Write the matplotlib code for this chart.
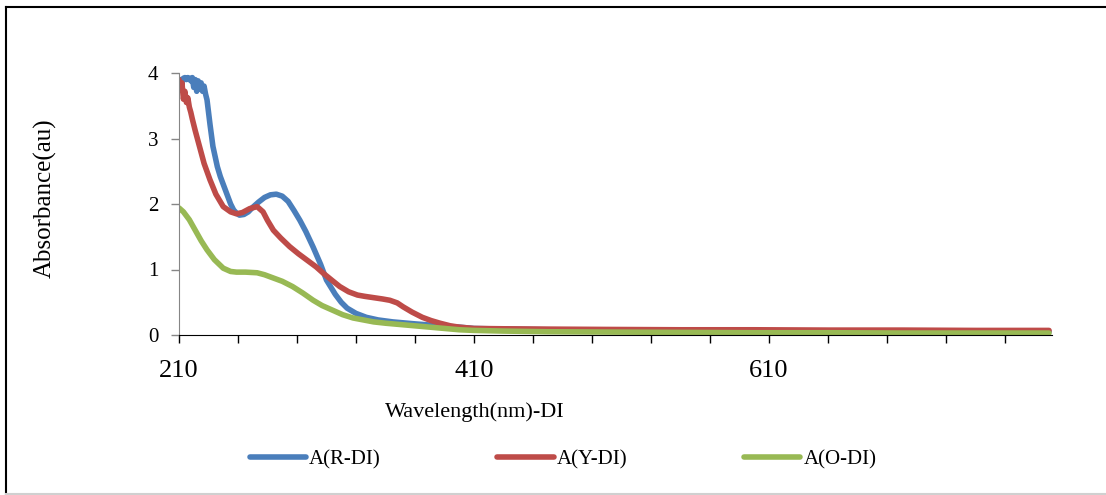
import matplotlib
matplotlib.use("Agg")
import matplotlib.pyplot as plt
from matplotlib.lines import Line2D

plt.rcParams['font.family'] = ['Liberation Serif', 'DejaVu Serif']

# UV-Vis absorbance (wavelength in nm)
wl_r = [210, 211, 212, 213, 214, 215, 216, 217, 218, 219, 220, 221, 222, 223, 224, 225, 226, 227, 228,
        229, 231, 233, 236, 238, 242, 245, 247, 249, 251, 254, 257, 260, 264, 268, 272, 276, 280, 284,
        288, 292, 296, 301, 306, 310, 316, 320, 324, 330, 337, 345, 355, 370, 387, 400, 410, 430, 460,
        500, 550, 600, 650, 700, 750, 800]
abs_r = [3.88, 3.90, 3.85, 3.92, 3.93, 3.90, 3.93, 3.92, 3.88, 3.93, 3.78, 3.90, 3.72, 3.88, 3.75, 3.85, 3.72, 3.80, 3.68,
         3.59, 3.22, 2.88, 2.57, 2.42, 2.18, 2.00, 1.91, 1.86, 1.83, 1.84, 1.88, 1.95, 2.03, 2.10, 2.14, 2.15, 2.12, 2.04,
         1.90, 1.75, 1.58, 1.34, 1.08, 0.84, 0.62, 0.50, 0.41, 0.33, 0.27, 0.23, 0.20, 0.17, 0.14, 0.12, 0.10, 0.09, 0.08,
         0.07, 0.065, 0.06, 0.06, 0.055, 0.05, 0.05]

wl_y = [210, 211, 212, 213, 214, 215, 216, 217, 218, 219, 221, 224, 227, 231, 235, 240, 245, 249, 253,
        258, 263, 267, 270, 274, 279, 285, 291, 297, 303, 308, 314, 319, 325, 331, 336, 342, 348, 353,
        358, 362, 368, 375, 381, 387, 394, 400, 410, 430, 460, 500, 550, 600, 650, 700, 750, 800]
abs_y = [3.90, 3.75, 3.85, 3.60, 3.72, 3.55, 3.62, 3.48, 3.40, 3.30, 3.12, 2.87, 2.62, 2.37, 2.15, 1.96, 1.88, 1.85, 1.87,
         1.93, 1.96, 1.88, 1.75, 1.60, 1.48, 1.35, 1.24, 1.14, 1.04, 0.94, 0.83, 0.74, 0.66, 0.61, 0.59, 0.57, 0.55, 0.53,
         0.49, 0.43, 0.35, 0.27, 0.22, 0.18, 0.14, 0.12, 0.10, 0.095, 0.09, 0.085, 0.08, 0.08, 0.075, 0.075, 0.07, 0.07]

wl_o = [210, 213, 217, 221, 225, 229, 234, 240, 245, 249, 255, 263, 268, 274, 280, 287, 294, 301, 307,
        314, 321, 328, 335, 342, 350, 365, 380, 400, 410, 430, 460, 500, 550, 600, 650, 700, 750, 800]
abs_o = [1.94, 1.88, 1.76, 1.60, 1.44, 1.30, 1.15, 1.02, 0.97, 0.96, 0.96, 0.95, 0.92, 0.87, 0.82, 0.74, 0.64, 0.53, 0.45,
         0.38, 0.31, 0.26, 0.23, 0.20, 0.18, 0.15, 0.12, 0.08, 0.07, 0.06, 0.05, 0.045, 0.04, 0.035, 0.035, 0.03, 0.03, 0.03]

series = [("A(R-DI)", wl_r, abs_r, "#4A7EBB"),
          ("A(Y-DI)", wl_y, abs_y, "#BE4B48"),
          ("A(O-DI)", wl_o, abs_o, "#98B954")]

x_ticks = list(range(210, 801, 40))
x_labels = ["210", "410", "610"]
y_ticks = [0, 1, 2, 3, 4]

W, H = 1106, 495
fig = plt.figure(figsize=(W / 100, H / 100), dpi=100)
ax = fig.add_axes([179 / W, 1 - 335 / H, (1052 - 179) / W, (335 - 73) / H])

handles = []
for name, x, y, col in series:
    line, = ax.plot(x, y, color=col, lw=4.0, solid_capstyle='round', solid_joinstyle='round', label=name)
    handles.append(line)

ax.set_xlim(210, 802)
ax.set_ylim(0, 4)
ax.set_xticks(x_ticks)
ax.set_xticklabels([str(t) if str(t) in x_labels else "" for t in x_ticks], fontsize=19)
ax.set_yticks(y_ticks)
ax.set_yticklabels([str(t) for t in y_ticks], fontsize=15)

for side in ("top", "right"):
    ax.spines[side].set_visible(False)
ax.spines["left"].set_color("#868686")
ax.spines["bottom"].set_color("black")
ax.tick_params(axis="x", direction="out", length=6, width=1, colors="black", pad=12)
ax.tick_params(axis="y", direction="out", length=6, width=1, color="#868686", labelcolor="black", pad=9)

fig.text(45 / W, 1 - 198 / H, "Absorbance(au)", rotation=90, ha="center", va="center", fontsize=18)
fig.text(475 / W, 1 - 412 / H, "Wavelength(nm)-DI", ha="center", va="center", fontsize=16)

fig.legend(handles=handles, loc="center", bbox_to_anchor=(563 / W, 1 - 460 / H), ncol=3, frameon=False,
           fontsize=15, handlelength=2.7, handletextpad=0.15, columnspacing=5.6)

# outer chart frame
fig.add_artist(Line2D([6 / W, 6 / W], [1 - 7 / H, 1 - 494 / H], color="black", lw=1.5, transform=fig.transFigure))
fig.add_artist(Line2D([6 / W, 1105 / W], [1 - 7 / H, 1 - 7 / H], color="black", lw=1.5, transform=fig.transFigure))
fig.add_artist(Line2D([6 / W, 1105 / W], [1 - 494 / H, 1 - 494 / H], color="#d0d0d0", lw=1.5, transform=fig.transFigure))

fig.savefig("out.png", dpi=100)
